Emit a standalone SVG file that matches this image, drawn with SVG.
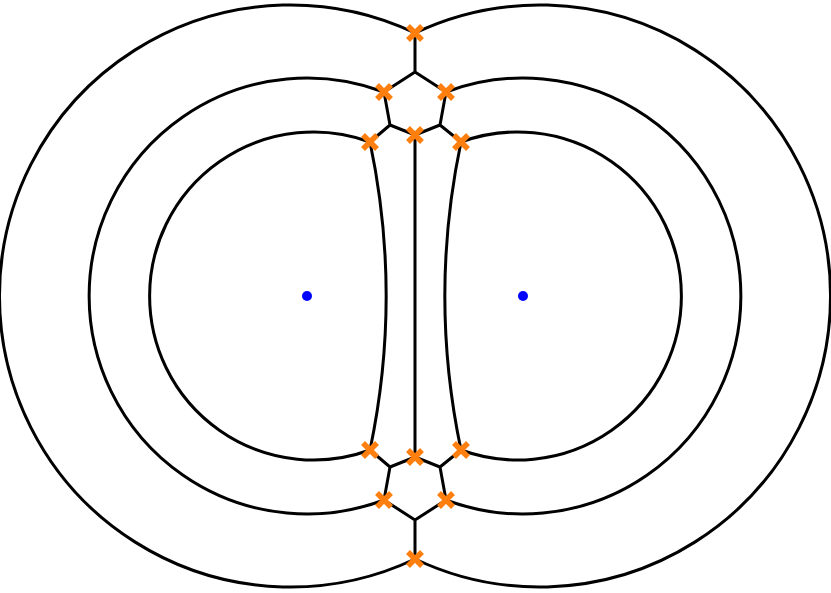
<svg xmlns="http://www.w3.org/2000/svg" width="831" height="593" viewBox="0 0 831 593">
<style>
.e{fill:none;stroke:#000;stroke-width:3;stroke-linejoin:round}
.x{stroke:#ff7f0e;stroke-width:5.5;fill:none}
.c{fill:#0000ff}
</style>
<defs><path id="X" class="x" d="M-7,-7L7,7M-7,7L7,-7"/></defs>
<rect width="831" height="593" fill="#fff"/>
<g id="connectors">
<path class="e" d="M415,33A291,291 0 1 0 415,559"/>
<path class="e" d="M415,33A291,291 0 1 1 415,559"/>
<path class="e" d="M384,92A218,218 0 1 0 384,500"/>
<path class="e" d="M446,92A218,218 0 1 1 446,500"/>
<path class="e" d="M370,142A164,164 0 1 0 370,450"/>
<path class="e" d="M461,142A164,164 0 1 1 461,450"/>
<path class="e" d="M370,142A749,749 0 0 1 370,450"/>
<path class="e" d="M461,142A749,749 0 0 0 461,450"/>
<path class="e" d="M415,33V72L384,92L390,125L370,142M415,72L446,92L440,125L461,142M390,125L415,135L440,125M415,135V457"/>
<path class="e" d="M415,559V520L384,500L390,467L370,450M415,520L446,500L440,467L461,450M390,467L415,457L440,467"/>
</g>
<g id="sites"><circle class="c" cx="307" cy="296" r="5"/><circle class="c" cx="523" cy="296" r="5"/></g>
<g id="vertices">
<use href="#X" x="415" y="33"/><use href="#X" x="384" y="92"/><use href="#X" x="446" y="92"/>
<use href="#X" x="370" y="142"/><use href="#X" x="415" y="135"/><use href="#X" x="461" y="142"/>
<use href="#X" x="370" y="450"/><use href="#X" x="415" y="457"/><use href="#X" x="461" y="450"/>
<use href="#X" x="384" y="500"/><use href="#X" x="446" y="500"/><use href="#X" x="415" y="559"/>
</g>
</svg>
